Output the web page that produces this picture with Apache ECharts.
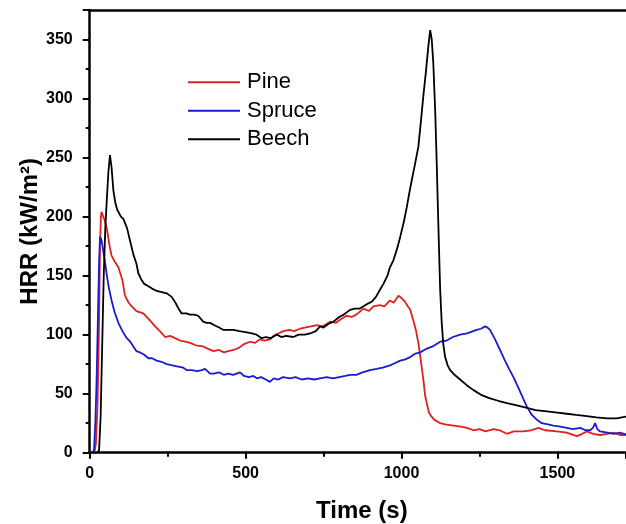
<!DOCTYPE html>
<html>
<head>
<meta charset="utf-8">
<script src="https://cdn.jsdelivr.net/npm/echarts@6/dist/echarts.min.js"></script>
<style>html,body{margin:0;padding:0;background:#fff}#c{width:626px;height:524px}</style>
</head>
<body>
<div id="c"></div>
<script>
var seriesNames = ['Pine', 'Spruce', 'Beech'];
var xTicks = [0, 500, 1000, 1500];
var yTicks = [0, 50, 100, 150, 200, 250, 300, 350];

var pine = [[0,0],[15,0],[20,8],[25,40],[30,110],[33,175],[36,200],[38,204],[42,201],[48,197],[55,190],[62,178],[70,167],[80,162],[92,157],[105,146],[113,133],[125,127],[135,124],[150,120],[172,118],[190,113],[210,107],[225,103],[242,98],[258,99],[274,97],[290,95],[306,94],[322,93],[340,91],[364,90],[380,88],[397,86],[415,87],[430,85],[445,86],[461,87],[480,89],[495,92],[514,94],[530,93],[545,96],[560,95],[578,96],[590,99],[605,101],[621,103],[640,104],[655,103],[675,105],[690,106],[710,107],[728,108],[745,107],[760,109],[771,111],[790,110],[805,113],[824,116],[840,115],[855,117],[878,122],[895,120],[910,124],[931,125],[945,124],[963,129],[975,127],[990,133],[1000,131],[1011,128],[1020,124],[1028,121],[1038,112],[1046,104],[1054,93],[1060,82],[1065,72],[1071,60],[1076,48],[1081,42],[1088,34],[1095,31],[1105,28],[1124,25],[1140,24],[1167,23],[1190,22],[1210,21],[1231,19],[1250,20],[1270,18],[1295,20],[1315,19],[1338,16],[1360,18],[1391,18],[1415,19],[1439,21],[1460,19],[1498,18],[1530,17],[1562,14],[1580,16],[1594,18],[1615,16],[1637,15],[1660,16],[1680,17],[1700,15],[1720,15]];

var spruce = [[0,0],[10,0],[14,3],[18,25],[22,60],[26,110],[30,160],[33,183],[38,180],[44,170],[50,160],[55,150],[62,139],[71,128],[80,119],[92,110],[105,103],[119,97],[130,94],[140,90],[150,86],[161,85],[175,83],[188,80],[200,80],[215,78],[230,77],[247,75],[265,74],[284,73],[300,72],[311,70],[327,70],[345,69],[360,70],[370,71],[386,67],[397,67],[415,68],[430,66],[445,67],[460,66],[482,68],[495,65],[510,64],[525,65],[536,63],[550,64],[565,62],[578,60],[590,63],[605,62],[620,64],[643,63],[660,64],[680,62],[700,63],[720,62],[739,63],[760,64],[780,63],[800,64],[820,65],[835,66],[855,66],[875,68],[899,70],[920,71],[940,72],[963,74],[980,76],[996,78],[1012,79],[1028,81],[1045,84],[1060,85],[1080,88],[1100,90],[1124,94],[1145,95],[1165,98],[1188,100],[1210,101],[1230,103],[1241,104],[1255,105],[1268,107],[1276,106],[1284,104],[1300,96],[1316,87],[1330,79],[1345,71],[1359,64],[1375,55],[1390,46],[1402,39],[1418,32],[1434,28],[1450,25],[1470,24],[1487,23],[1510,22],[1530,21],[1550,20],[1573,21],[1590,19],[1605,19],[1614,21],[1621,25],[1628,20],[1637,18],[1660,17],[1680,16],[1700,17],[1720,15.5]];

var beech = [[0,0],[25,0],[30,2],[35,30],[40,90],[45,150],[50,190],[55,215],[60,238],[65,252],[70,242],[76,222],[82,212],[88,206],[92,205],[100,200],[108,198],[113,197],[120,190],[129,180],[140,168],[150,160],[156,152],[165,147],[175,143],[188,141],[200,139],[215,137],[231,136],[247,135],[263,132],[275,127],[285,122],[295,118],[310,118],[322,117],[335,117],[348,116],[364,111],[375,110],[386,110],[400,108],[415,106],[429,104],[445,104],[461,104],[480,103],[504,102],[520,101],[535,100],[552,97],[565,98],[580,97],[600,100],[615,98],[630,99],[653,98],[670,100],[690,100],[707,101],[725,103],[739,107],[750,106],[765,109],[782,111],[800,115],[815,117],[835,121],[850,122],[865,122],[878,124],[890,126],[905,128],[918,132],[931,138],[942,143],[955,150],[963,157],[974,163],[985,172],[996,183],[1007,195],[1017,208],[1025,220],[1033,231],[1043,244],[1054,259],[1062,280],[1070,302],[1078,322],[1086,344],[1092,358],[1097,350],[1102,330],[1108,290],[1113,245],[1118,195],[1124,138],[1129,110],[1134,92],[1140,81],[1148,74],[1156,70],[1170,66],[1188,62],[1210,57],[1231,53],[1255,49],[1284,46],[1310,44],[1338,42],[1370,40],[1402,38],[1430,36],[1466,35],[1500,34],[1530,33],[1560,32],[1594,31],[1625,30],[1659,29],[1690,29],[1720,30.5]];

var colors = ['#e02020', '#1a1ad0', '#000000'];
var font = '"Liberation Sans", Arial, sans-serif';

var chart = echarts.init(document.getElementById('c'), null, {renderer: 'canvas'});
var axisLineStyle = {color: '#000', width: 2.5};
chart.setOption({
  animation: false,
  color: colors,
  grid: {left: 89.7, right: 0, top: 10, bottom: 71.3, containLabel: false, outerBoundsMode: 'none'},
  legend: {
    orient: 'vertical', left: 183, top: 63, padding: 5,
    itemWidth: 52, itemHeight: 2, itemGap: 0,
    icon: 'rect',
    data: seriesNames,
    textStyle: {fontFamily: font, fontSize: 22, color: '#000', lineHeight: 28.5, padding: [0, 0, 0, 2]}
  },
  xAxis: [{
    type: 'value', min: 0, max: 1720, interval: 500,
    name: 'Time (s)', nameLocation: 'middle', nameGap: 47, nameMoveOverlap: false,
    nameTextStyle: {fontFamily: font, fontSize: 24, fontWeight: 'bold', color: '#000', padding: [0, 0, 0, 8]},
    axisLine: {lineStyle: axisLineStyle},
    axisTick: {show: true, inside: false, length: 6, lineStyle: {color: '#000', width: 2}},
    minorTick: {show: true, splitNumber: 2, length: 4, lineStyle: {color: '#000', width: 2}},
    axisLabel: {
      fontFamily: font, fontSize: 16, fontWeight: 'bold', color: '#000', margin: 13,
      showMaxLabel: false,
      formatter: function (v) { return xTicks.indexOf(v) >= 0 ? String(v) : ''; }
    },
    splitLine: {show: false}
  }, {
    type: 'value', position: 'top', min: 0, max: 1720,
    axisLine: {show: true, lineStyle: axisLineStyle},
    axisTick: {show: false}, axisLabel: {show: false}, splitLine: {show: false}
  }],
  yAxis: {
    type: 'value', min: 0, max: 375, interval: 50,
    name: 'HRR (kW/m²)', nameLocation: 'middle', nameGap: 47, nameMoveOverlap: false,
    nameTextStyle: {fontFamily: font, fontSize: 24, fontWeight: 'bold', color: '#000'},
    axisLine: {lineStyle: axisLineStyle},
    axisTick: {show: true, inside: false, length: 7, lineStyle: {color: '#000', width: 2}},
    minorTick: {show: true, splitNumber: 2, length: 4, lineStyle: {color: '#000', width: 2}},
    axisLabel: {
      fontFamily: font, fontSize: 16, fontWeight: 'bold', color: '#000', margin: 17,
      showMaxLabel: false,
      formatter: function (v) { return yTicks.indexOf(v) >= 0 ? String(v) : ''; }
    },
    splitLine: {show: false}
  },
  series: [
    {name: seriesNames[0], type: 'line', data: pine, showSymbol: false, symbol: 'none', lineStyle: {width: 1.8, color: colors[0]}, itemStyle: {color: colors[0]}, z: 2},
    {name: seriesNames[1], type: 'line', data: spruce, showSymbol: false, symbol: 'none', lineStyle: {width: 1.8, color: colors[1]}, itemStyle: {color: colors[1]}, z: 3},
    {name: seriesNames[2], type: 'line', data: beech, showSymbol: false, symbol: 'none', lineStyle: {width: 1.8, color: colors[2]}, itemStyle: {color: colors[2]}, z: 4}
  ]
});
</script>
</body>
</html>
